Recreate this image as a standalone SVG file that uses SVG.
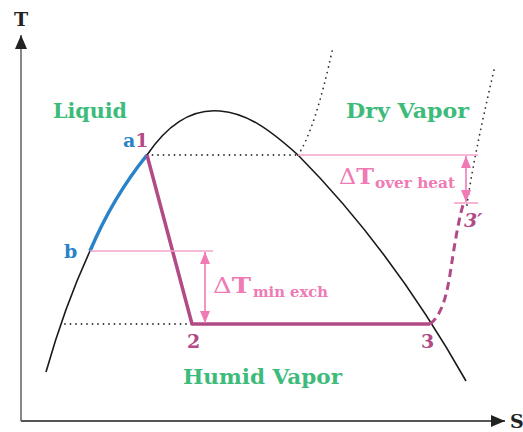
<svg xmlns="http://www.w3.org/2000/svg" width="523" height="432" viewBox="0 0 523 432">
<style>
text{font-family:"DejaVu Serif","Liberation Serif",serif;font-weight:bold}
.region{fill:#3dbb7a;font-size:20px}
.blue{fill:#2a82c8}
.mag{fill:#b24a86}
.pinkt{fill:#f07ab4}
.num{font-size:19px}
.dots{fill:none;stroke:#333;stroke-width:1.8;stroke-linecap:round;stroke-dasharray:0 5.5}
.pl{stroke:#f5a3cc;stroke-width:1.6;fill:none}
.pa{stroke:#f07ab4;stroke-width:1.6;fill:none}
.ah{fill:#f07ab4}
</style>
<defs>
<marker id="ar" viewBox="0 0 12 10" refX="12" refY="5" markerWidth="12" markerHeight="10" markerUnits="userSpaceOnUse" orient="auto-start-reverse"><path d="M0,0 L12,5 L0,10 Z" class="ah"/></marker>
<marker id="ax" viewBox="0 0 14 12" refX="14" refY="6" markerWidth="14" markerHeight="12" markerUnits="userSpaceOnUse" orient="auto"><path d="M0,0 L14,6 L0,12 Z" fill="#222"/></marker>
</defs>
<g id="axes">
<line x1="21" y1="421" x2="21" y2="35" stroke="#888" stroke-width="2" marker-end="url(#ax)"/>
<line x1="21" y1="421" x2="505" y2="421" stroke="#555" stroke-width="2" marker-end="url(#ax)"/>
<text x="21" y="26" text-anchor="middle" style="font-size:19px" fill="#222">T</text>
<text x="510" y="428" style="font-size:19px" fill="#222">S</text>
</g>
<g id="dome">
<path d="M46,372 Q65,305 90,251 Q113,197 147,155 C172,118 198,109 220,111 C246,113 268,128 298,155 Q392,250 466,381" fill="none" stroke="#1a1a1a" stroke-width="1.6"/>
</g>
<g id="isobars">
<path class="dots" d="M147,155 L298,155"/>
<path class="dots" d="M298,155 Q315,130 333,47"/>
<path class="dots" d="M65,324 L192,324"/>
<path class="dots" d="M467,205 Q473,160 494,70"/>
</g>
<g id="connectors">
<path d="M90,251 Q113,197 147,155" fill="none" stroke="#2a82c8" stroke-width="3.5"/>
<path d="M147,155 L192,324 L430,324" fill="none" stroke="#b24a86" stroke-width="3.5" stroke-linejoin="round"/>
<path d="M430,324 C446,312 449,280 453,255 S460,215 463,205" fill="none" stroke="#b24a86" stroke-width="3" stroke-dasharray="8 5"/>
</g>
<g id="dt-min">
<line class="pl" x1="90" y1="251" x2="213" y2="251"/>
<line class="pa" x1="205" y1="252" x2="205" y2="323" marker-start="url(#ar)" marker-end="url(#ar)"/>
<text x="213" y="293" class="pinkt" style="font-size:22px" textLength="38" lengthAdjust="spacingAndGlyphs"><tspan style="font-weight:normal">Δ</tspan><tspan>T</tspan></text>
<text x="253" y="297" class="pinkt" style="font-size:15px" textLength="75" lengthAdjust="spacingAndGlyphs">min exch</text>
</g>
<g id="dt-over">
<line class="pl" x1="298" y1="155" x2="478" y2="155"/>
<line class="pl" x1="454" y1="203" x2="478" y2="203"/>
<line class="pa" x1="466" y1="156" x2="466" y2="202" marker-start="url(#ar)" marker-end="url(#ar)"/>
<text x="339" y="184" class="pinkt" style="font-size:22px" textLength="35" lengthAdjust="spacingAndGlyphs"><tspan style="font-weight:normal">Δ</tspan><tspan>T</tspan></text>
<text x="375" y="188" class="pinkt" style="font-size:15px" textLength="80" lengthAdjust="spacingAndGlyphs">over heat</text>
</g>
<g id="labels">
<text x="53" y="118" class="region" textLength="74" lengthAdjust="spacingAndGlyphs">Liquid</text>
<text x="346" y="118" class="region" textLength="123" lengthAdjust="spacingAndGlyphs">Dry Vapor</text>
<text x="183" y="384" class="region" textLength="159" lengthAdjust="spacingAndGlyphs">Humid Vapor</text>
</g>
<g id="point-a1"><text x="123" y="147" class="num"><tspan class="blue">a</tspan><tspan class="mag">1</tspan></text></g>
<g id="point-b"><text x="64" y="258" class="num blue">b</text></g>
<g id="point-2"><text x="187" y="348" class="num mag">2</text></g>
<g id="point-3"><text x="421" y="348" class="num mag">3</text></g>
<g id="point-3p"><text x="464" y="227" class="num mag" style="font-style:italic">3′</text></g>
</svg>
